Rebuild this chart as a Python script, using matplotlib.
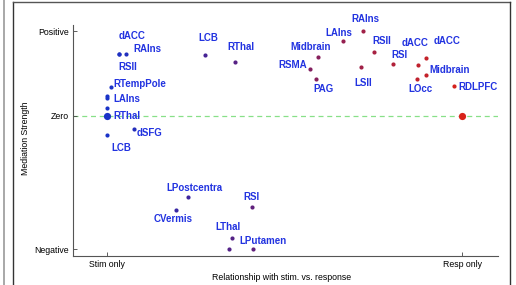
import matplotlib
matplotlib.use("Agg")
import matplotlib.pyplot as plt
from matplotlib.colors import LinearSegmentedColormap
from matplotlib.lines import Line2D

# region names, position on stim(0)..resp(1) axis, mediation strength
regions = ["dACC", "RAIns", "RSII", "RTempPole", "LAIns", "", "", "RThal", "dSFG", "LCB",
           "LCB", "RThal", "Midbrain", "RSMA", "PAG", "LAIns", "RAIns", "RSII", "LSII", "RSI",
           "dACC", "dACC", "Midbrain", "LOcc", "RDLPFC", "",
           "LPostcentra", "CVermis", "RSI", "LThal", "", "LPutamen"]
stim_resp = [0.032, 0.052, 0.032, 0.010, 0.0, 0.0, 0.0, 0.0, 0.074, 0.0,
             0.276, 0.361, 0.594, 0.571, 0.589, 0.663, 0.719, 0.751, 0.715, 0.804,
             0.876, 0.899, 0.899, 0.873, 0.977, 1.0,
             0.226, 0.193, 0.408, 0.352, 0.344, 0.411]
strength = [0.734, 0.734, 0.732, 0.336, 0.236, 0.205, 0.087, 0.0, -0.155, -0.23,
            0.717, 0.640, 0.693, 0.551, 0.437, 0.878, 1.0, 0.756, 0.579, 0.607,
            0.599, 0.685, 0.481, 0.430, 0.351, 0.0,
            -0.956, -1.113, -1.081, -1.444, -1.577, -1.570]
big_points = [7, 25]

yticks = [1.0, 0.0, -1.577]
ytick_labels = ["Positive", "Zero", "Negative"]
xticks = [0.0, 1.0]
xtick_labels = ["Stim only", "Resp only"]

# label offsets in pixels (dx to label's left edge, dy to label's centre)
label_offsets = [(0.3, 17.7), (7.3, 4.5), (-0.7, -12.8), (3, 3.2), (5.7, -3.3), None, None,
                 (5.7, -0.3), (3.5, -3.7), (3.7, -13.3),
                 (-7.3, 16.5), (-8.3, 14.5), (-27.3, 10), (-32, 4), (-3.3, -10.8),
                 (-17.7, 8.8), (-10.7, 12), (-2, 10.7), (-7, -16.8), (-1.7, 9.3),
                 (-16.3, 21.5), (6.7, 16.2), (2.7, 4.5), (-9.3, -9.7), (4, -1.5), None,
                 (-20.7, 8.7), (-21.7, -9.5), (-8.3, 9.8), (-17.3, 10.5), None, (-14.3, 7.2)]

plt.rcParams["font.family"] = ["Liberation Sans", "DejaVu Sans"]

cmap = LinearSegmentedColormap.from_list(
    "stimresp", [(0.0, "#1a33c8"), (0.3, "#4a2290"), (0.6, "#88205a"), (1.0, "#d8221a")])

fig = plt.figure(figsize=(5.16, 2.85), dpi=100)
ax = fig.add_axes([73 / 516, 1 - 255.7 / 285, 425 / 516, 230.7 / 285])

ax.axhline(0, color="#88e088", lw=0.9, dashes=(4, 3), zorder=1)

for i, (x, y) in enumerate(zip(stim_resp, strength)):
    ms = 5.2 if i in big_points else 3.0
    ax.plot(x, y, "o", color=cmap(x), markersize=ms, markeredgewidth=0, zorder=3)
    if regions[i] and label_offsets[i] is not None:
        dx, dy = label_offsets[i]
        ax.annotate(regions[i], xy=(x, y), xytext=(dx, dy), textcoords="offset pixels",
                    ha="left", va="center", fontsize=7, fontweight="bold",
                    color="#2233e0", zorder=4, annotation_clip=False)

ax.set_xlim(-0.0966, 1.1006)
ax.set_ylim(-1.653, 1.071)
ax.set_xticks(xticks)
ax.set_xticklabels(xtick_labels, fontsize=6.3)
ax.set_yticks(yticks)
ax.set_yticklabels(ytick_labels, fontsize=6.3)
ax.tick_params(direction="in", length=3, width=0.6, color="#444444", pad=3)
for side in ["top", "right"]:
    ax.spines[side].set_visible(False)
for side in ["left", "bottom"]:
    ax.spines[side].set_color("#555555")
    ax.spines[side].set_linewidth(0.8)
ax.set_xlabel("Relationship with stim. vs. response", fontsize=6.3)
ax.xaxis.set_label_coords(0.49, -0.074)
ax.set_ylabel("Mediation Strength", fontsize=6.3)
ax.yaxis.set_label_coords(-0.1, 0.51)

# screenshot frame
W, H = 516, 285
fig.add_artist(Line2D([4 / W, 4 / W], [0, 1], color="#999999", lw=1.2, transform=fig.transFigure))
fig.add_artist(Line2D([13 / W, 13 / W], [0, 1 - 2 / H], color="#333333", lw=1.0, transform=fig.transFigure))
fig.add_artist(Line2D([13 / W, 510 / W], [1 - 2 / H, 1 - 2 / H], color="#555555", lw=1.0, transform=fig.transFigure))
fig.add_artist(Line2D([510 / W, 510 / W], [0, 1 - 2 / H], color="#333333", lw=1.0, transform=fig.transFigure))

fig.savefig("out.png", dpi=100)
